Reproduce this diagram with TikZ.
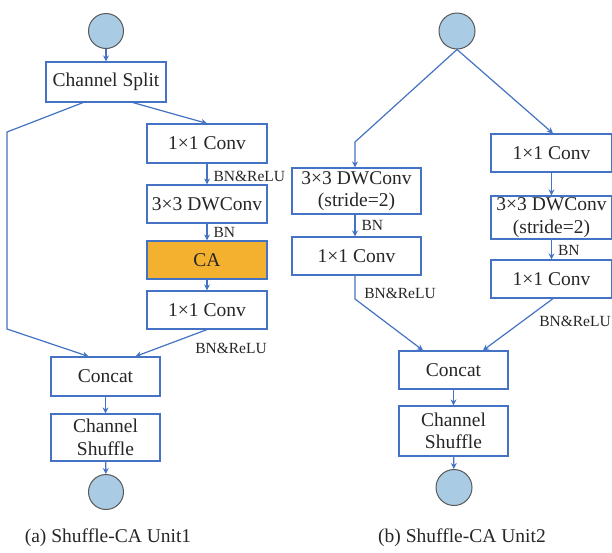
\documentclass[tikz,border=0pt]{standalone}
\usepackage{fontspec}
\setmainfont{Liberation Serif}
\usetikzlibrary{arrows.meta}
\definecolor{boxblue}{HTML}{4472C4}
\definecolor{circblue}{HTML}{A9CBE4}
\definecolor{circgray}{HTML}{595959}
\definecolor{caorange}{HTML}{F4B12F}
\definecolor{txtdark}{HTML}{262626}
\tikzset{
  blk/.style={draw=boxblue, line width=1.2pt, fill=white, inner sep=0pt, align=center, text=txtdark, font=\fontsize{19.5}{22.5}\selectfont},
  io/.style={circle, draw=circgray, fill=circblue, line width=1pt, minimum size=35pt, inner sep=0pt},
  flow/.style={draw=boxblue, line width=1.2pt, -{Stealth[length=6pt,width=6pt]}},
  tag/.style={text=txtdark, inner sep=0pt, font=\fontsize{15.5}{17}\selectfont},
  captxt/.style={text=txtdark, inner sep=0pt, font=\fontsize{19.5}{22}\selectfont}
}
\begin{document}
\begin{tikzpicture}[x=1pt,y=-1pt]
			\useasboundingbox (0,0) rectangle (612,552);
			% (a) unit 1
			\node[io](inA) at (106,31){};
			\node[blk, minimum width=120pt, minimum height=40pt](splitA) at (106,82){Channel Split};
			\node[blk, minimum width=120pt, minimum height=39pt](convA1) at (207,143.5){1×1 Conv};
			\node[blk, minimum width=120pt, minimum height=38pt](dwA) at (207,204){3×3 DWConv};
			\node[blk, fill=caorange, minimum width=120pt, minimum height=38pt](caA) at (207,260){CA};
			\node[blk, minimum width=120pt, minimum height=38pt](convA2) at (207,310){1×1 Conv};
			\node[blk, minimum width=109pt, minimum height=39pt](concatA) at (105.5,376.5){Concat};
			\node[blk, minimum width=109pt, minimum height=47pt](shufA) at (105.5,437.5){Channel\\Shuffle};
			\node[io](outA) at (106,492){};
			\coordinate (bendA1) at (7,132);
			\coordinate (bendA2) at (7,329);
			\draw[flow] (inA) -- (splitA);
			\draw[flow] ([xshift=-23pt]splitA.south) -- (bendA1) -- (bendA2) -- ([xshift=-17pt]concatA.north);
			\draw[flow] ([xshift=27pt]splitA.south) -- (convA1.north);
			\draw[flow] (convA1) -- node[tag, anchor=west, xshift=6pt, yshift=-2pt]{BN\&ReLU} (dwA);
			\draw[flow] (dwA) -- node[tag, anchor=west, xshift=6pt]{BN} (caA);
			\draw[flow] (caA) -- (convA2);
			\draw[flow] (convA2.south) -- ([xshift=30pt]concatA.north);
			\node[tag](lblA) at (231,348){BN\&ReLU};
			\draw[flow] (concatA) -- (shufA);
			\draw[flow] (shufA) -- (outA);
			\node[captxt](capA) at (108,538){(a) Shuffle-CA Unit1};
			% (b) unit 2
			\node[io, minimum size=36pt](inB) at (457,31){};
			\node[blk, minimum width=129pt, minimum height=46pt](dwB1) at (356.5,191){3×3 DWConv\\(stride=2)};
			\node[blk, minimum width=129pt, minimum height=38pt](convB1) at (356.5,256){1×1 Conv};
			\node[blk, minimum width=121pt, minimum height=38pt](convB2) at (551.5,153){1×1 Conv};
			\node[blk, minimum width=121pt, minimum height=43pt](dwB2) at (551.5,217.5){3×3 DWConv\\(stride=2)};
			\node[blk, minimum width=121pt, minimum height=38pt](convB3) at (551.5,279){1×1 Conv};
			\node[blk, minimum width=109pt, minimum height=38pt](concatB) at (453.5,370){Concat};
			\node[blk, minimum width=109pt, minimum height=50pt](shufB) at (453.5,431){Channel\\Shuffle};
			\node[io, minimum size=36pt](outB) at (454,487.5){};
			\coordinate (bendB1) at (355,142);
			\coordinate (bendB2) at (355,299);
			\draw[flow] (inB.south) -- (bendB1) -- (bendB1 |- dwB1.north);
			\draw[flow] (inB.south) -- ([xshift=1.5pt]convB2.north);
			\draw[flow] (dwB1.south -| bendB1) -- node[tag, anchor=west, xshift=6pt]{BN} (convB1.north -| bendB1);
			\draw[flow] (convB1.south -| bendB2) -- (bendB2) -- ([xshift=-30.5pt]concatB.north);
			\node[tag](lblB1) at (400,293){BN\&ReLU};
			\draw[flow] (convB2) -- (dwB2);
			\draw[flow] (dwB2) -- node[tag, anchor=west, xshift=6pt, yshift=-1pt]{BN} (convB3);
			\draw[flow] ([xshift=1.5pt]convB3.south) -- ([xshift=29.5pt]concatB.north);
			\node[tag](lblB2) at (575,321){BN\&ReLU};
			\draw[flow] (concatB) -- (shufB);
			\draw[flow] (shufB) -- (outB);
			\node[captxt](capB) at (462,538){(b) Shuffle-CA Unit2};
\end{tikzpicture}
\end{document}
